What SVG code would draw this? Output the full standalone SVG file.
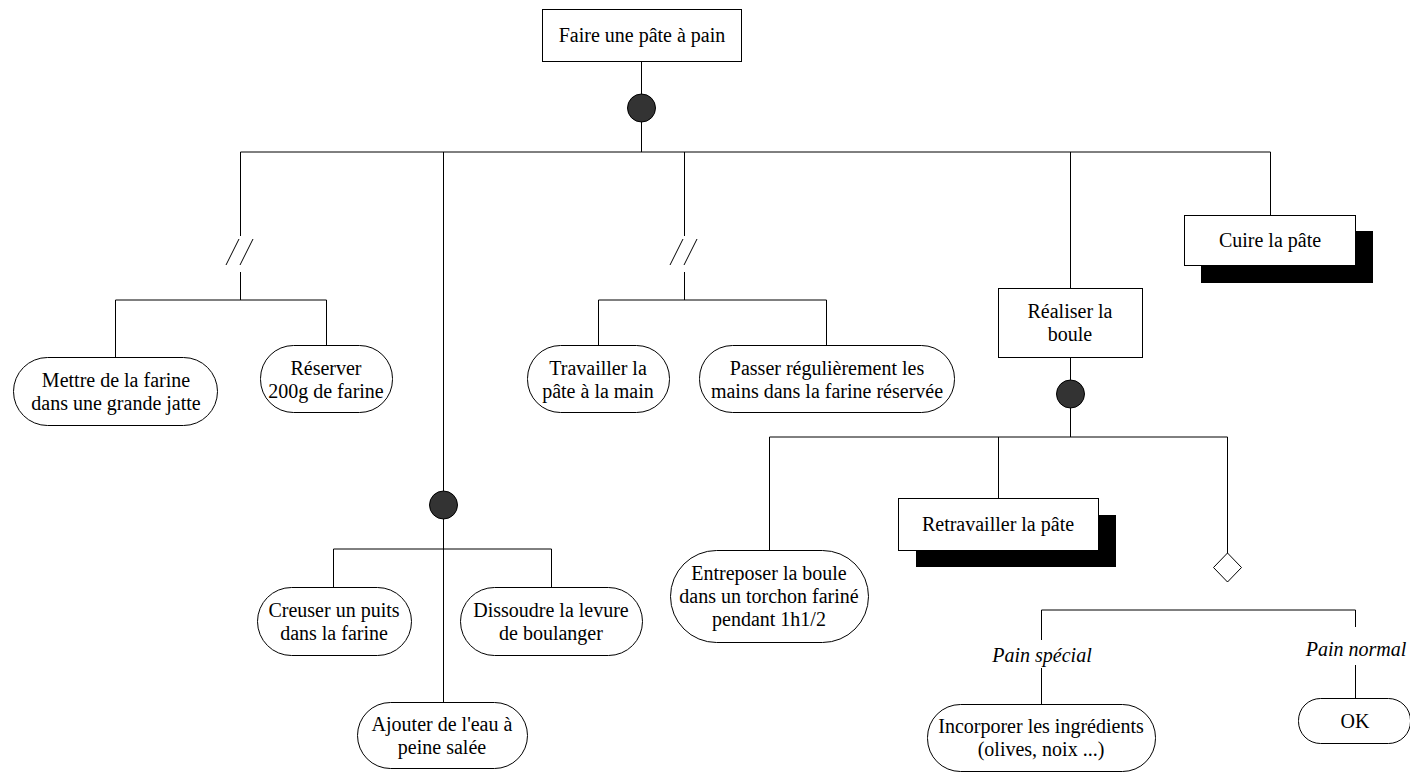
<svg xmlns="http://www.w3.org/2000/svg" width="1410" height="773" viewBox="0 0 1410 773">
<style>
.box{fill:#fff;stroke:#000;stroke-width:1}
.sh{fill:#000}
.act{fill:#fff;stroke:#000;stroke-width:1}
.dot{fill:#333;stroke:#000;stroke-width:1}
.ln{fill:none;stroke:#000;stroke-width:1}
text{font-family:"Liberation Serif","Times New Roman",serif;font-size:20px;fill:#000;text-anchor:middle}
.it{font-style:italic}
</style>
<rect width="1410" height="773" fill="#fff"/>
<g id="connectors">
<path class="ln" d="M641.5 61V152M240.5 152H1270.5M240.5 152V236M240.5 272V300M115.5 300H326.5M115.5 300V357M326.5 300V345"/>
<path class="ln" d="M226 265L239 239M240 265L253 239"/>
<path class="ln" d="M443.5 152V702M333.5 549H551.5M333.5 549V587M551.5 549V587"/>
<path class="ln" d="M684.5 152V236M684.5 272V300M598.5 300H826.5M598.5 300V345M826.5 300V345"/>
<path class="ln" d="M670 265L683 239M684 265L697 239"/>
<path class="ln" d="M1070.5 152V288M1070.5 357V437M769.5 437H1227.5M769.5 437V550M998.5 437V498M1227.5 437V582"/>
<path class="ln" d="M1041.5 610H1355.5M1041.5 610V640M1041.5 668V704M1355.5 610V627M1355.5 665V698"/>
<path class="ln" d="M1270.5 152V215"/>
</g>
<g id="n-faire"><rect class="box" x="542.5" y="9.5" width="199" height="52"/><text x="642" y="42">Faire une pâte à pain</text></g>
<g id="j-top"><circle class="dot" cx="641.5" cy="108" r="14"/></g>
<g id="n-mettre"><rect class="act" x="13.5" y="357.5" width="204" height="68" rx="34"/><text x="116" y="387">Mettre de la farine</text><text x="116" y="410">dans une grande jatte</text></g>
<g id="n-reserver"><rect class="act" x="260.5" y="345.5" width="132" height="67" rx="33"/><text x="326" y="375">Réserver</text><text x="326" y="398">200g de farine</text></g>
<g id="n-travailler"><rect class="act" x="527.5" y="345.5" width="142" height="67" rx="33"/><text x="598" y="375">Travailler la</text><text x="598" y="398">pâte à la main</text></g>
<g id="n-passer"><rect class="act" x="699.5" y="345.5" width="255" height="67" rx="33"/><text x="827" y="375">Passer régulièrement les</text><text x="827" y="398">mains dans la farine réservée</text></g>
<g id="n-cuire"><rect class="sh" x="1201" y="231" width="172" height="52"/><rect class="box" x="1184.5" y="215.5" width="171" height="50"/><text x="1270" y="247">Cuire la pâte</text></g>
<g id="n-realiser"><rect class="box" x="998.5" y="288.5" width="144" height="69"/><text x="1070" y="318">Réaliser la</text><text x="1070" y="341">boule</text></g>
<g id="j-realiser"><circle class="dot" cx="1070.5" cy="394" r="14"/></g>
<g id="j-eau"><circle class="dot" cx="443.5" cy="505" r="14"/></g>
<g id="n-creuser"><rect class="act" x="257.5" y="587.5" width="154" height="68" rx="34"/><text x="334" y="617">Creuser un puits</text><text x="334" y="640">dans la farine</text></g>
<g id="n-dissoudre"><rect class="act" x="460.5" y="587.5" width="182" height="68" rx="34"/><text x="551" y="617">Dissoudre la levure</text><text x="551" y="640">de boulanger</text></g>
<g id="n-ajouter"><rect class="act" x="357.5" y="702.5" width="170" height="66" rx="33"/><text x="442" y="731">Ajouter de l'eau à</text><text x="442" y="754">peine salée</text></g>
<g id="n-entreposer"><rect class="act" x="670.5" y="550.5" width="198" height="92" rx="46"/><text x="769" y="580">Entreposer la boule</text><text x="769" y="603">dans un torchon fariné</text><text x="769" y="626">pendant 1h1/2</text></g>
<g id="n-retravailler"><rect class="sh" x="916" y="515" width="200" height="52"/><rect class="box" x="898.5" y="498.5" width="200" height="52"/><text x="998" y="531">Retravailler la pâte</text></g>
<g id="d-choix"><polygon class="box" points="1227.5,553 1241.5,567.5 1227.5,582 1213.5,567.5"/></g>
<g id="l-special"><text class="it" x="1042" y="662">Pain spécial</text></g>
<g id="l-normal"><text class="it" x="1356" y="656">Pain normal</text></g>
<g id="n-incorporer"><rect class="act" x="927.5" y="704.5" width="228" height="67" rx="33"/><text x="1041" y="733">Incorporer les ingrédients</text><text x="1041" y="756">(olives, noix ...)</text></g>
<g id="n-ok"><rect class="act" x="1298.5" y="698.5" width="112" height="45" rx="22"/><text x="1355" y="728">OK</text></g>
</svg>
